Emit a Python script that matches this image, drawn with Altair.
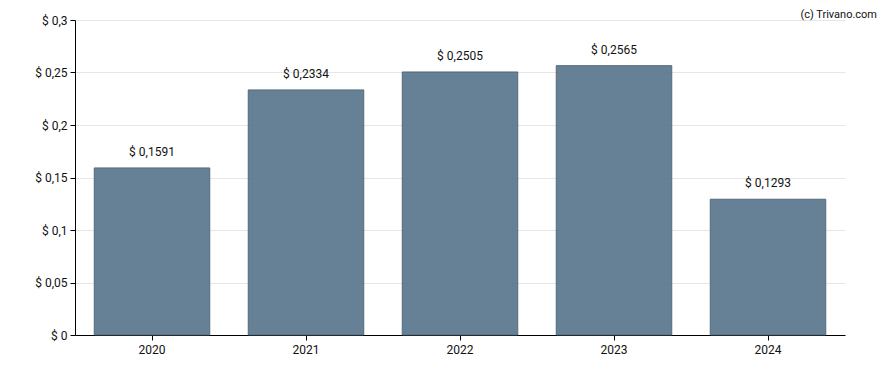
import altair as alt
import pandas as pd

years = ["2020", "2021", "2022", "2023", "2024"]
values = [0.1591, 0.2334, 0.2505, 0.2565, 0.1293]
labels = ["$ 0,1591", "$ 0,2334", "$ 0,2505", "$ 0,2565", "$ 0,1293"]
y_ticks = [0, 0.05, 0.1, 0.15, 0.2, 0.25, 0.3]

df = pd.DataFrame({"year": years, "value": values, "label": labels})

FONT = "Roboto"

x = alt.X("year:N", title=None,
          scale=alt.Scale(paddingInner=0.25, paddingOuter=0.125),
          axis=alt.Axis(labelAngle=0, domainColor="black", tickColor="black",
                        tickSize=5, labelFont=FONT, labelFontSize=12,
                        labelColor="#111", labelPadding=4, grid=False))
y = alt.Y("value:Q", title=None,
          scale=alt.Scale(domain=[0, 0.3], nice=False),
          axis=alt.Axis(values=y_ticks, domainColor="black", tickColor="black",
                        tickSize=5, labelFont=FONT, labelFontSize=12,
                        labelColor="#111", labelPadding=3,
                        gridColor="#e6e6e6",
                        labelExpr="'$ ' + replace(format(datum.value, ''), '.', ',')"))

bars = alt.Chart(df).mark_bar(color="#5b788d", opacity=0.93, stroke="#475f72",
                              strokeWidth=1).encode(x=x, y=y)

text = alt.Chart(df).mark_text(dy=-9, baseline="bottom", font=FONT, fontSize=12,
                               color="#111").encode(x="year:N", y="value:Q", text="label:N")

credit = alt.Chart(pd.DataFrame({"t": ["(c) Trivano.com"]})).mark_text(
    align="right", baseline="top", font=FONT, fontSize=11, color="#111"
).encode(x=alt.value(802), y=alt.value(-11), text="t:N")

chart = alt.layer(bars, text, credit).properties(
    width=770, height=315,
    autosize=alt.AutoSizeParams(type="none"),
    padding={"left": 67, "top": 12, "right": 35, "bottom": 27},
).configure_view(stroke=None)

chart.save("out.html", embed_options={"renderer": "svg", "actions": False})
